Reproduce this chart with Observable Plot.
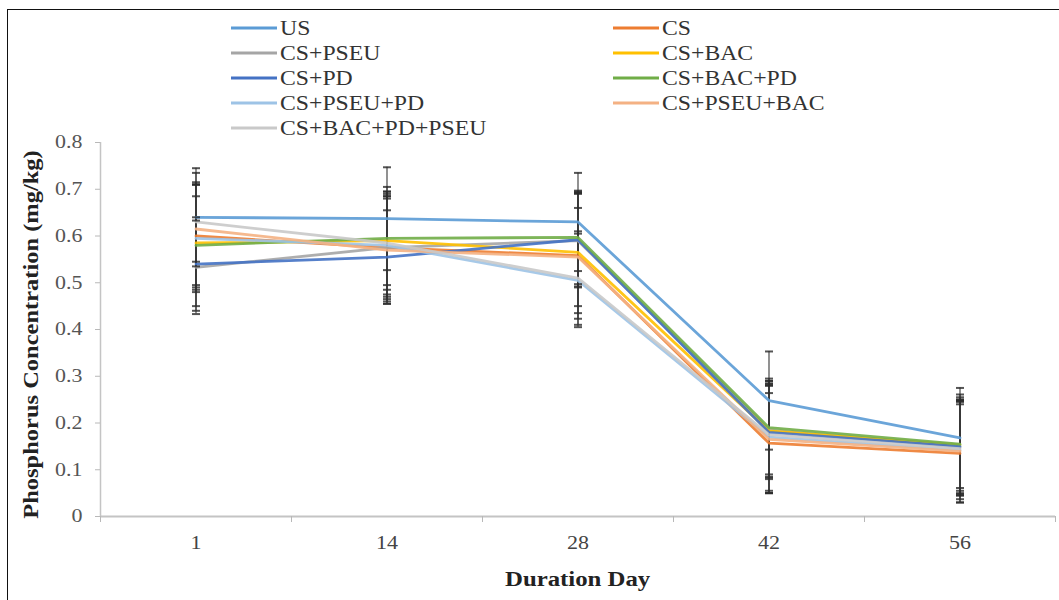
<!DOCTYPE html>
<html><head><meta charset="utf-8">
<script src="https://cdn.jsdelivr.net/npm/d3@7"></script>
<script src="https://cdn.jsdelivr.net/npm/@observablehq/plot@0.6"></script>
<style>
body{margin:0;background:#fff;}
#wrap{position:relative;width:1059px;height:600px;overflow:hidden;background:#fff;font-family:"Liberation Serif","Times New Roman",serif;}
#frame{position:absolute;left:7px;top:9px;width:1100px;height:700px;border-left:1.5px solid #111;border-top:1.5px solid #111;}
#chart{position:absolute;left:0;top:0;}
.item{position:absolute;display:flex;align-items:center;font-size:21px;line-height:21px;color:#333;white-space:nowrap;transform:translateY(-50%);}
.sw{width:46px;height:3px;margin-right:3px;}
.lt{display:inline-block;transform-origin:0 50%;}
.title{position:absolute;font-weight:bold;color:#222;white-space:nowrap;line-height:1;}
</style></head><body>
<div id="wrap"><div id="frame"></div><div id="chart"></div><div id="legend"></div>
<div class="title" id="ytitle">Phosphorus Concentration (mg/kg)</div>
<div class="title" id="xtitle">Duration Day</div>
</div>
<script>
const days = ["1", "14", "28", "42", "56"];
const seriesNames = ["US", "CS", "CS+PSEU", "CS+BAC", "CS+PD", "CS+BAC+PD", "CS+PSEU+PD", "CS+PSEU+BAC", "CS+BAC+PD+PSEU"];
const colors = ["#5b9bd5", "#ed7d31", "#a5a5a5", "#ffc000", "#4472c4", "#70ad47", "#9dc3e6", "#f4b183", "#c9c9c9"];

const US            = [0.640, 0.637, 0.630, 0.248, 0.168];
const CS            = [0.600, 0.575, 0.558, 0.157, 0.135];
const CS_PSEU       = [0.533, 0.575, 0.590, 0.185, 0.148];
const CS_BAC        = [0.585, 0.590, 0.565, 0.183, 0.153];
const CS_PD         = [0.540, 0.555, 0.592, 0.180, 0.150];
const CS_BAC_PD     = [0.580, 0.595, 0.597, 0.190, 0.155];
const CS_PSEU_PD    = [0.595, 0.580, 0.505, 0.170, 0.142];
const CS_PSEU_BAC   = [0.615, 0.570, 0.555, 0.165, 0.140];
const CS_BAC_PD_PSEU= [0.630, 0.585, 0.510, 0.175, 0.145];

const US_err            = [0.105, 0.110, 0.105, 0.105, 0.107];
const CS_err            = [0.110, 0.110, 0.135, 0.107, 0.105];
const CS_PSEU_err       = [0.100, 0.120, 0.100, 0.100, 0.100];
const CS_BAC_err        = [0.100, 0.115, 0.130, 0.100, 0.108];
const CS_PD_err         = [0.100, 0.100, 0.100, 0.100, 0.100];
const CS_BAC_PD_err     = [0.130, 0.100, 0.100, 0.100, 0.100];
const CS_PSEU_PD_err    = [0.115, 0.110, 0.100, 0.120, 0.105];
const CS_PSEU_BAC_err   = [0.120, 0.110, 0.105, 0.115, 0.110];
const CS_BAC_PD_PSEU_err= [0.085, 0.100, 0.100, 0.120, 0.100];

const yTicks = [0, 0.1, 0.2, 0.3, 0.4, 0.5, 0.6, 0.7, 0.8];

const values = [US, CS, CS_PSEU, CS_BAC, CS_PD, CS_BAC_PD, CS_PSEU_PD, CS_PSEU_BAC, CS_BAC_PD_PSEU];
const errors = [US_err, CS_err, CS_PSEU_err, CS_BAC_err, CS_PD_err, CS_BAC_PD_err, CS_PSEU_PD_err, CS_PSEU_BAC_err, CS_BAC_PD_PSEU_err];

const data = [];
seriesNames.forEach((s, k) => days.forEach((d, i) => {
  data.push({series: s, i, day: d, v: values[k][i], lo: values[k][i] - errors[k][i], hi: values[k][i] + errors[k][i]});
}));

const capSymbol = {draw(ctx, size) { const w = Math.sqrt(size / Math.PI); ctx.moveTo(-w, 0); ctx.lineTo(w, 0); }};
const idx = days.map((d, i) => i);
const bounds = days.map((d, i) => i - 0.5).concat([days.length - 0.5]);

const plot = Plot.plot({
  width: 1059, height: 600,
  marginLeft: 100, marginRight: 4, marginTop: 142, marginBottom: 84,
  x: {type: "linear", domain: [-0.5, days.length - 0.5], axis: null, label: null},
  y: {domain: [0, 0.8], axis: null, label: null},
  color: {domain: seriesNames, range: colors},
  style: {fontFamily: '"Liberation Serif","Times New Roman",serif', background: "transparent", overflow: "visible"},
  marks: [
    Plot.ruleY([0], {stroke: "#c4c4c4", strokeWidth: 2.2}),
    Plot.ruleX([-0.5], {y1: 0, y2: 0.8, stroke: "#c4c4c4", strokeWidth: 1.5}),
    Plot.axisY(yTicks, {anchor: "left", label: null, tickSize: 5, tickPadding: 13, fontSize: 18, stroke: "#b8b8b8", fill: "#555",
      tickFormat: d => d === 0 ? "0" : d.toFixed(1)}),
    Plot.axisX(bounds, {anchor: "bottom", label: null, tickSize: 6, tickFormat: () => "", stroke: "#b8b8b8"}),
    Plot.axisX(idx, {anchor: "bottom", label: null, tickSize: 0, tickPadding: 20, fontSize: 18, fill: "#444", tickFormat: i => days[i]}),
    Plot.ruleX(data, {x: "i", y1: "lo", y2: "hi", stroke: "#3a3a3a", strokeWidth: 1.3, strokeOpacity: 0.85}),
    Plot.line(data, {x: "i", y: "v", z: "series", stroke: "series", strokeWidth: 2.8, strokeOpacity: 0.9}),
    Plot.dot(data, {x: "i", y: "hi", symbol: capSymbol, r: 4, stroke: "#2a2a2a", strokeWidth: 2, strokeOpacity: 0.8}),
    Plot.dot(data, {x: "i", y: "lo", symbol: capSymbol, r: 4, stroke: "#2a2a2a", strokeWidth: 2, strokeOpacity: 0.8})
  ]
});
document.getElementById("chart").appendChild(plot);

// horizontal stretch of the axis labels, as in the reference
plot.querySelectorAll('g[aria-label$="tick label"] text').forEach(t => {
  const w = t.getComputedTextLength();
  if (w > 0) { t.setAttribute("textLength", (w * 1.22).toFixed(1)); t.setAttribute("lengthAdjust", "spacingAndGlyphs"); }
});

// legend
const legend = document.getElementById("legend");
seriesNames.forEach((s, k) => {
  const col = k % 2, row = Math.floor(k / 2);
  const it = document.createElement("div");
  it.className = "item";
  it.style.left = (231 + col * 382) + "px";
  it.style.top = (28 + row * 25) + "px";
  it.innerHTML = `<span class="sw" style="background:${colors[k]}"></span><span class="lt" style="transform:scaleX(1.13)">${s}</span>`;
  legend.appendChild(it);
});

// titles
const yt = document.getElementById("ytitle");
yt.style.fontSize = "21px";
const ytw = yt.offsetWidth, yth = yt.offsetHeight;
yt.style.left = (31 - ytw / 2) + "px";
yt.style.top = (334 - yth / 2) + "px";
yt.style.transform = `rotate(-90deg) scaleX(${(368 / ytw).toFixed(3)})`;

const xt = document.getElementById("xtitle");
xt.style.fontSize = "20px";
const xtw = xt.offsetWidth, xth = xt.offsetHeight;
xt.style.left = (577 - xtw / 2) + "px";
xt.style.top = (579 - xth / 2) + "px";
xt.style.transform = `scaleX(${(145 / xtw).toFixed(3)})`;
</script>
</body></html>
